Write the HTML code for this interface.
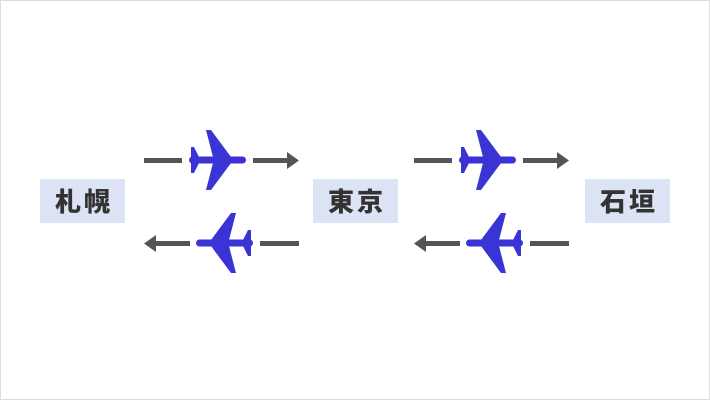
<!DOCTYPE html>
<html><head><meta charset="utf-8"><style>
html,body{margin:0;padding:0;background:#fff}
.wrap{position:relative;width:708px;height:398px;border:1px solid #ddd;background:#fff}
.lbl{position:absolute;top:178px;width:85px;height:44px;background:#dbe3f5;color:#333;font:900 26px "Noto Sans CJK JP","WenQuanYi Zen Hei",sans-serif;text-align:center;line-height:44px;letter-spacing:3px;text-indent:3px}
svg{position:absolute;left:-1px;top:-1px}
</style></head><body><div class="wrap">
<svg width="710" height="400">
<defs>
<g id="pl" fill="#3a33d6">
<rect x="189" y="156.5" width="57" height="7" rx="3.5"/>
<polygon points="213,157 206,130 211,130 231,157 231,163 211,190 206,190 213,163"/>
<polygon points="191,157 191,147 194,147 199,157 199,163 194,173 191,173 191,163"/>
</g>
<g id="grp">
<g fill="#555">
<rect x="144" y="158" width="38" height="5"/>
<rect x="253" y="158" width="36" height="5"/>
<polygon points="287,152 299,160.5 287,169"/>
<rect x="156" y="241" width="34" height="5"/>
<rect x="260" y="241" width="39" height="5"/>
<polygon points="156,235 144,243.5 156,252"/>
</g>
<use href="#pl"/>
<use href="#pl" transform="translate(442,83) scale(-1,1)"/>
</g>
</defs>
<use href="#grp"/>
<use href="#grp" transform="translate(270,0)"/>
</svg>
<div class="lbl" style="left:39px">札幌</div>
<div class="lbl" style="left:312px">東京</div>
<div class="lbl" style="left:584px">石垣</div>
</div></body></html>
